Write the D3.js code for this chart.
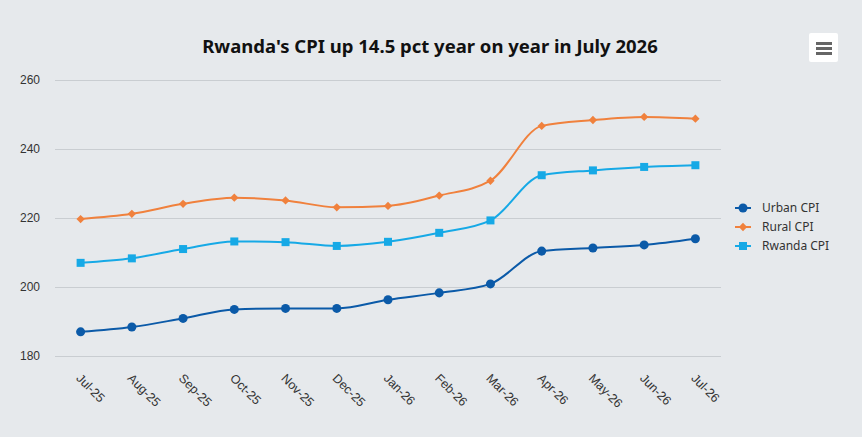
<!DOCTYPE html>
<html>
<head>
<meta charset="utf-8">
<script src="https://cdn.jsdelivr.net/npm/d3@7"></script>
<style>
  html, body { margin: 0; padding: 0; background: #e6e9ec; }
  svg { display: block; font-family: "Noto Sans", "Open Sans", sans-serif; }
</style>
</head>
<body>
<div id="chart"></div>
<script>
const months = ['Jul-25', 'Aug-25', 'Sep-25', 'Oct-25', 'Nov-25', 'Dec-25', 'Jan-26',
  'Feb-26', 'Mar-26', 'Apr-26', 'May-26', 'Jun-26', 'Jul-26']
const urban = [187.0, 188.4, 190.9, 193.5, 193.8, 193.8, 196.3, 198.3, 200.9, 210.4, 211.3, 212.2, 214.0]
const rural = [219.7, 221.2, 224.1, 225.9, 225.1, 223.1, 223.5, 226.5, 230.8, 246.7, 248.4, 249.3, 248.8]
const rwanda = [207.0, 208.3, 211.0, 213.2, 213.0, 211.9, 213.1, 215.7, 219.3, 232.4, 233.8, 234.8, 235.3]
const yTicks = [180, 200, 220, 240, 260]

const series = [
  { name: 'Urban CPI', values: urban, color: '#0b5aa8', symbol: d3.symbolCircle, size: 64 },
  { name: 'Rural CPI', values: rural, color: '#f0813d', symbol: d3.symbolDiamond2, size: 44 },
  { name: 'Rwanda CPI', values: rwanda, color: '#16a9e6', symbol: d3.symbolSquare, size: 64 }
]

let width = 862
let height = 437
let margin = { top: 80, right: 141, bottom: 81, left: 55 }

let x = d3.scaleBand()
  .domain(months)
  .range([margin.left, width - margin.right])

let y = d3.scaleLinear()
  .domain([180, 260])
  .range([height - margin.bottom, margin.top])

const svg = d3.select('#chart').append('svg')
  .attr('width', width)
  .attr('height', height)

svg.append('rect')
  .attr('width', width)
  .attr('height', height)
  .attr('fill', '#e6e9ec')

// grid + y labels
let yAxis = g => g
  .attr('transform', `translate(${margin.left},0)`)
  .call(d3.axisLeft(y).tickValues(yTicks).tickSize(-(width - margin.left - margin.right)).tickPadding(15))
  .call(g => g.select('.domain').remove())
  .call(g => g.selectAll('.tick line').attr('stroke', '#c9cdd1'))
  .call(g => g.selectAll('.tick text').attr('fill', '#333').style('font-size', '12px'))

svg.append('g').call(yAxis)

// x labels, rotated
let xAxis = g => g
  .attr('transform', `translate(0,${height - margin.bottom})`)
  .call(d3.axisBottom(x).tickSize(0).tickPadding(0))
  .call(g => g.select('.domain').remove())
  .selectAll('text')
    .attr('fill', '#333')
    .style('font-size', '12.5px')
    .style('text-anchor', 'start')
    .attr('dy', '0')
    .attr('transform', 'translate(-5,23) rotate(45)')

svg.append('g').call(xAxis)

let cx = m => x(m) + x.bandwidth() / 2

let line = d3.line()
  .x((d, i) => cx(months[i]))
  .y(d => y(d))
  .curve(d3.curveMonotoneX)

for (let s of series) {
  svg.append('path')
    .attr('d', line(s.values))
    .attr('fill', 'none')
    .attr('stroke', s.color)
    .attr('stroke-width', 2)

  svg.append('g')
    .selectAll('path')
    .data(s.values)
    .join('path')
      .attr('d', d3.symbol(s.symbol, s.size))
      .attr('transform', (d, i) => `translate(${cx(months[i])},${y(d)})`)
      .attr('fill', s.color)
}

// title
svg.append('text')
  .text("Rwanda's CPI up 14.5 pct year on year in July 2026")
  .attr('x', 430)
  .attr('y', 53)
  .attr('text-anchor', 'middle')
  .style('font-size', '18.5px')
  .style('font-weight', 'bold')
  .attr('fill', '#111')

// legend
let legend = svg.append('g')
  .selectAll('g')
  .data(series)
  .join('g')
    .attr('transform', (d, i) => `translate(735,${208 + i * 19})`)

legend.append('line')
  .attr('x1', 0).attr('x2', 16)
  .attr('stroke', d => d.color)
  .attr('stroke-width', 2)

legend.append('path')
  .attr('d', d => d3.symbol(d.symbol, d.size)())
  .attr('transform', 'translate(8,0)')
  .attr('fill', d => d.color)

legend.append('text')
  .text(d => d.name)
  .attr('x', 27)
  .attr('dy', '0.35em')
  .style('font-size', '12px')
  .attr('fill', '#333')

// menu button
let menu = svg.append('g').attr('transform', 'translate(809,33)')
menu.append('rect')
  .attr('width', 29).attr('height', 29).attr('rx', 2)
  .attr('fill', '#fff')
for (let k of [0, 1, 2]) {
  menu.append('rect')
    .attr('x', 7).attr('y', 9 + k * 5)
    .attr('width', 16).attr('height', 3)
    .attr('fill', '#666')
}
</script>
</body>
</html>
